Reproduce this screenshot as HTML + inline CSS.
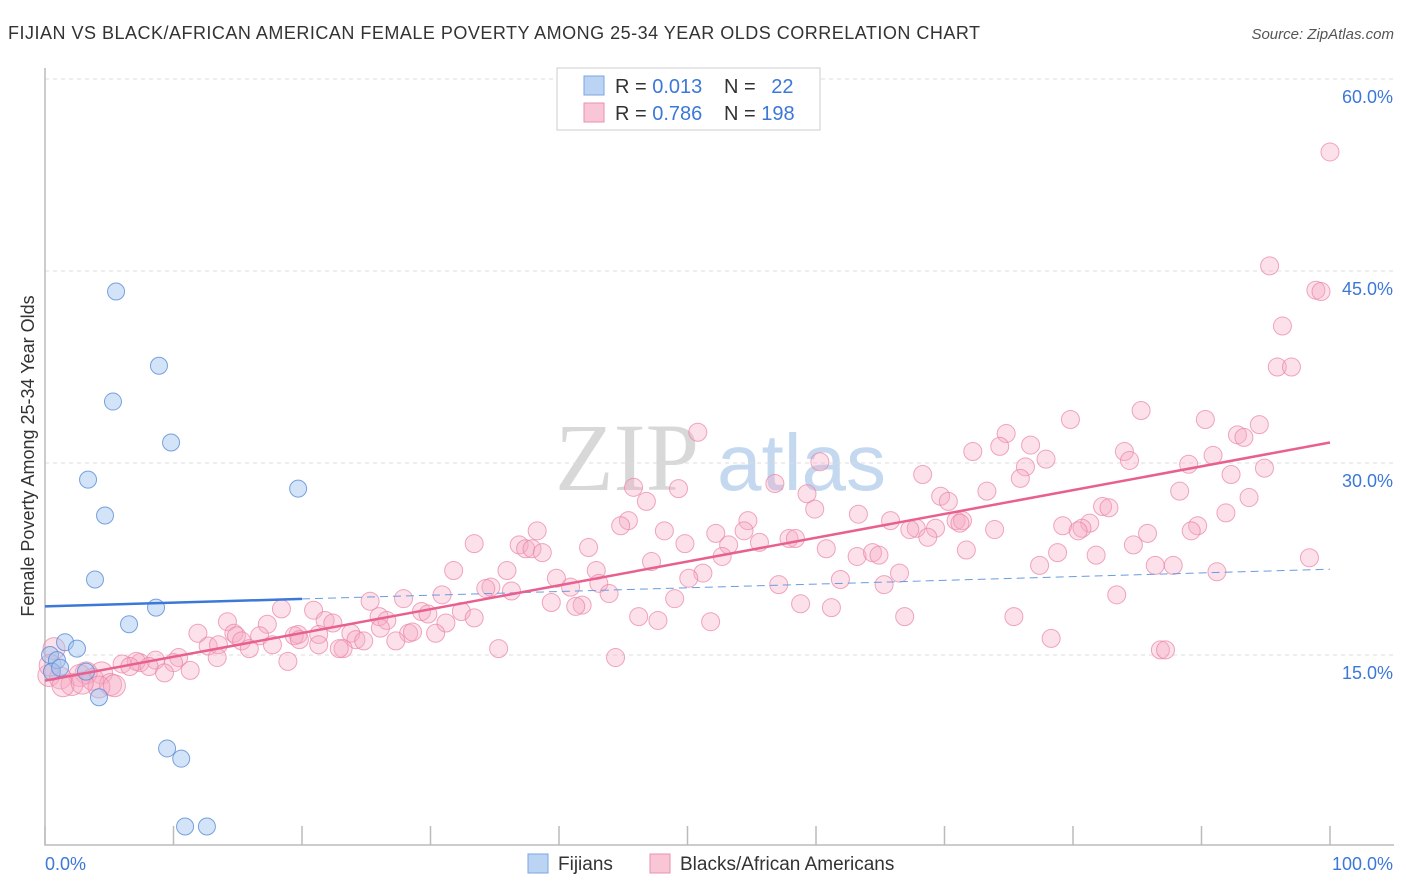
<!DOCTYPE html>
<html><head><meta charset="utf-8"><style>
body{margin:0;background:#fff;font-family:"Liberation Sans",sans-serif;}
svg{display:block}
</style></head><body>
<svg id="chart" width="1406" height="892">
<text x="8" y="39" font-size="18" fill="#333" textLength="972">FIJIAN VS BLACK/AFRICAN AMERICAN FEMALE POVERTY AMONG 25-34 YEAR OLDS CORRELATION CHART</text>
<text x="1394" y="39" font-size="15" fill="#555" font-style="italic" text-anchor="end">Source: ZipAtlas.com</text>
<g>
<text x="555" y="490" font-size="96" fill="#d8d8d8" font-family="Liberation Serif,serif">ZIP</text>
<text x="717" y="490" font-size="80" fill="#c4d8f0">atlas</text>
</g>
<g id="grid"></g>
<g id="axes"></g>
<g id="pts"></g>
<g id="lines"></g>
<text x="34" y="456" font-size="18" fill="#333" text-anchor="middle" transform="rotate(-90 34 456)">Female Poverty Among 25-34 Year Olds</text>
<g>
<rect x="557" y="68" width="263" height="62" fill="#fff" stroke="#ccc"/>
<rect x="584" y="76" width="20" height="19" fill="#bcd4f4" stroke="#7aa6e0"/>
<rect x="584" y="103" width="20" height="19" fill="#f9c6d6" stroke="#e990ad"/>
<text x="615" y="93" font-size="20" fill="#333">R = <tspan fill="#3b78d8">0.013</tspan></text>
<text x="724" y="93" font-size="20" fill="#333">N = <tspan fill="#3b78d8" dx="10">22</tspan></text>
<text x="615" y="120" font-size="20" fill="#333">R = <tspan fill="#3b78d8">0.786</tspan></text>
<text x="724" y="120" font-size="20" fill="#333">N = <tspan fill="#3b78d8">198</tspan></text>
</g>
<g>
<rect x="528" y="854" width="20" height="19" fill="#bcd4f4" stroke="#7aa6e0"/>
<text x="558" y="870" font-size="19" fill="#333">Fijians</text>
<rect x="650" y="854" width="20" height="19" fill="#f9c6d6" stroke="#e990ad"/>
<text x="680" y="870" font-size="19" fill="#333">Blacks/African Americans</text>
</g>
</svg>
<script>
const yTicks=[15,30,45,60];
const yTickLabels=["15.0%","30.0%","45.0%","60.0%"];
const xTickLabels=["0.0%","100.0%"];
const fijX=[0.39,0.93,1.56,2.49,0.54,3.19,4.2,3.35,4.67,3.89,5.29,5.53,8.87,9.81,6.54,8.64,19.7,9.5,10.6,10.9,12.6,1.17];
const fijY=[15.0,14.6,16.0,15.5,13.7,13.7,11.7,28.7,25.9,20.9,34.8,43.4,37.6,31.6,17.4,18.7,28.0,7.7,6.9,1.6,1.6,14.0];
const blkX=[100,95.3,98.9,99.3,96.3,95.9,97.0,85.3,90.3,79.8,94.5,92.8,93.3,74.8,76.7,74.3,72.2,84.0,90.9,77.9,84.4,89.0,76.3,94.9,68.3,75.9,92.3,88.3,73.3,69.7,93.7,59.3,56.8,49.3,45.8,46.8,50.8,60.3,70.3,82.3,82.8,91.9,63.3,59.9,45.4,54.7,65.8,70.9,71.4,81.3,80.7,79.2,89.7,80.4,73.9,67.8,69.3,52.2,54.4,48.2,85.8,68.7,38.3,44.8,67.3,71.2,89.2,57.9,58.4,55.6,53.2,49.8,33.4,36.9,37.4,37.9,38.7,42.3,71.7,84.7,60.8,63.2,64.4,64.9,78.8,81.8,52.7,47.2,77.4,86.4,87.8,98.4,35.95,31.8,42.9,51.2,66.5,91.2,39.8,50.1,61.9,57.1,65.3,34.7,34.3,40.9,43.1,36.3,30.9,43.9,49.0,83.4,27.9,25.3,39.4,41.8,41.3,58.8,61.2,18.4,20.9,29.3,32.4,29.8,26.0,33.4,46.2,47.7,66.9,75.4,21.8,22.4,26.6,14.2,17.3,31.2,26.1,51.8,28.3,30.4,28.6,14.7,11.9,14.9,19.7,21.3,23.8,24.2,19.4,16.7,78.3,15.3,19.8,24.8,27.3,12.7,13.5,15.9,17.7,23.2,22.9,21.3,35.3,86.8,87.2,44.4,18.9,13.4,10.4,8.6,7.4,10.0,7.1,6.0,6.6,8.1,11.3,9.3,4.4,3.2,2.7,0.3,3.7,1.2,2.1,5.1,1.4,4.2,5.4,2.9,0.7,0.4];
const blkY=[54.3,45.4,43.5,43.4,40.7,37.5,37.5,34.1,33.4,33.4,33.0,32.2,32.0,32.3,31.4,31.3,30.9,30.9,30.6,30.3,30.2,29.9,29.7,29.6,29.1,28.8,29.1,27.8,27.8,27.4,27.3,27.6,28.4,28.0,28.1,27.0,32.4,30.1,27.0,26.6,26.5,26.1,26.0,26.4,25.5,25.5,25.5,25.5,25.5,25.3,24.9,25.1,25.1,24.7,24.8,24.9,24.9,24.5,24.7,24.7,24.5,24.2,24.7,25.1,24.8,25.3,24.7,24.1,24.1,23.8,23.6,23.7,23.7,23.6,23.3,23.3,23.0,23.4,23.2,23.6,23.3,22.7,23.0,22.8,23.0,22.8,22.7,22.3,22.0,22.0,22.0,22.6,21.6,21.6,21.6,21.4,21.4,21.5,21.0,21.0,20.9,20.5,20.5,20.3,20.2,20.3,20.6,20.0,19.7,19.8,19.4,19.7,19.4,19.2,19.1,18.9,18.8,19.0,18.7,18.6,18.5,18.4,18.4,18.2,18.0,17.9,18.0,17.7,18.0,18.0,17.7,17.5,17.7,17.6,17.4,17.5,17.1,17.6,16.7,16.7,16.8,16.7,16.7,16.5,16.6,16.6,16.7,16.2,16.5,16.5,16.3,16.1,16.2,16.1,16.1,15.7,15.8,15.5,15.8,15.5,15.5,15.8,15.5,15.4,15.4,14.8,14.5,14.8,14.8,14.6,14.4,14.4,14.5,14.3,14.1,14.1,13.8,13.6,13.6,13.6,13.4,13.4,13.1,13.2,12.7,12.7,12.6,12.5,12.6,12.8,15.5,14.2];
const fijFit=[18.8,21.7];
const blkFit=[13.0,31.6];
const NS="http://www.w3.org/2000/svg";
const X=v=>45+v*12.85, Y=v=>847-v*12.8;
function mk(p,t,a){const e=document.createElementNS(NS,t);for(const k in a)e.setAttribute(k,a[k]);p.appendChild(e);return e;}
const grid=document.getElementById('grid'),axes=document.getElementById('axes'),pts=document.getElementById('pts'),lines=document.getElementById('lines');
yTicks.forEach((v,i)=>{
 const l=mk(grid,'line',{x1:45,x2:1394,y1:Y(v),y2:Y(v),stroke:'#ddd','stroke-dasharray':'4,4'});
 
 
 const t=mk(axes,'text',{x:1393,y:Y(v)+24,'font-size':18,fill:'#3b78d8','text-anchor':'end'});
 t.textContent=yTickLabels[i];
 
 
});
const ax=mk(axes,'path',{d:'M45 68V845H1394',stroke:'#bbb',fill:'none','stroke-width':1.5});


for(let i=0;i<=10;i++){
 const tk=mk(axes,'line',{x1:X(i*10),x2:X(i*10),y1:826,y2:845,stroke:'#bbb','stroke-width':1.5});
 
 
}
[[0,'start',45],[100,'end',1393]].forEach((d,i)=>{
 const t=mk(axes,'text',{x:d[2],y:870,'font-size':18,fill:'#3b78d8','text-anchor':d[1]});
 t.textContent=xTickLabels[i];
 
 
});
blkX.forEach((x,i)=>{
 const r=(x<6)?11:9;
 const c=mk(pts,'circle',{cx:X(x),cy:Y(blkY[i]),r:r,fill:'rgba(247,170,195,0.35)',stroke:'rgba(233,130,165,0.7)','stroke-width':1});
 
 
});
fijX.forEach((x,i)=>{
 const c=mk(pts,'circle',{cx:X(x),cy:Y(fijY[i]),r:8.5,fill:'rgba(160,195,240,0.45)',stroke:'rgba(90,140,215,0.8)','stroke-width':1});
 
 
});
const fy=x=>fijFit[0]+(fijFit[1]-fijFit[0])*x/100;
const l1=mk(lines,'line',{x1:X(0),y1:Y(fy(0)),x2:X(20),y2:Y(fy(20)),stroke:'#3b78d8','stroke-width':2.5});


const l2=mk(lines,'line',{x1:X(20),y1:Y(fy(20)),x2:X(100),y2:Y(fy(100)),stroke:'#6a9be0','stroke-width':1,'stroke-dasharray':'8,5'});


const l3=mk(lines,'line',{x1:X(0),y1:Y(blkFit[0]),x2:X(100),y2:Y(blkFit[1]),stroke:'#e8608f','stroke-width':2.5});


</script>
</body></html>
